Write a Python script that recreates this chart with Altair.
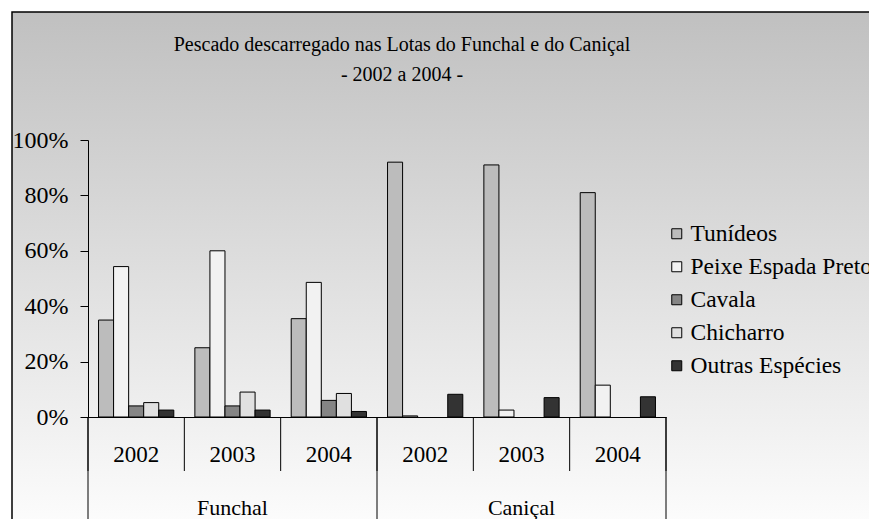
import altair as alt
import pandas as pd

# ---- data ----
locations = ["Funchal", "Funchal", "Funchal", "Caniçal", "Caniçal", "Caniçal"]
years = ["2002", "2003", "2004", "2002", "2003", "2004"]
species = ["Tunídeos", "Peixe Espada Preto", "Cavala", "Chicharro", "Outras Espécies"]
tunideos = [35.0, 25.0, 35.5, 92.0, 91.0, 81.0]
peixe_espada = [54.3, 60.0, 48.6, 0.4, 2.5, 11.5]
cavala = [4.0, 4.0, 6.0, 0.0, 0.0, 0.0]
chicharro = [5.2, 9.0, 8.5, 0.0, 0.0, 0.0]
outras = [2.5, 2.5, 2.0, 8.2, 7.0, 7.3]
y_ticks = [0, 20, 40, 60, 80, 100]
title_lines = ["Pescado descarregado nas Lotas do Funchal e do Caniçal", "- 2002 a 2004 -"]

species_colors = ["#bcbcbc", "#f2f2f2", "#858585", "#e0e0e0", "#333333"]

FONT = "Liberation Serif"
W, H = 578, 277
PAD_L, PAD_T = 80, 132
TOTAL_W, TOTAL_H = 861, 511

cats = [f"{l} {y}" for l, y in zip(locations, years)]
series = [tunideos, peixe_espada, cavala, chicharro, outras]
rows = []
for sp, vals in zip(species, series):
    for c, v in zip(cats, vals):
        rows.append({"cat": c, "species": sp, "v": v})
df = pd.DataFrame(rows)

xscale = alt.Scale(domain=cats, paddingInner=0, paddingOuter=0)

# background with gradient + border
bg = alt.Chart(pd.DataFrame({"a": [0]})).mark_rect(
    fill=alt.LinearGradient(
        gradient="linear",
        stops=[alt.GradientStop(color="#c0c0c0", offset=0),
               alt.GradientStop(color="#fcfcfc", offset=1)],
        x1=0, x2=0, y1=0, y2=1),
    stroke="black", strokeWidth=1.5,
).encode(
    x=alt.value(-PAD_L + 4), x2=alt.value(TOTAL_W),
    y=alt.value(-PAD_T + 4), y2=alt.value(TOTAL_H - PAD_T + 4),
)

bars = alt.Chart(df).transform_filter("datum.v > 0").mark_bar(
    stroke="black", strokeWidth=1
).encode(
    x=alt.X("cat:N", scale=xscale,
            axis=alt.Axis(labels=False, ticks=False, title=None, zindex=1,
                          domainColor="black", domainWidth=1)),
    xOffset=alt.XOffset("species:N", sort=species,
                        scale=alt.Scale(domain=species, paddingInner=0, paddingOuter=0.7)),
    y=alt.Y("v:Q", scale=alt.Scale(domain=[0, 100], nice=False),
            axis=alt.Axis(values=y_ticks, labelExpr="datum.value + '%'", title=None,
                          grid=False, domainColor="black", tickColor="black", zindex=1,
                          tickSize=8, labelPadding=12, labelFont=FONT,
                          labelFontSize=24, labelColor="black")),
    color=alt.Color("species:N", sort=species,
                    scale=alt.Scale(domain=species, range=species_colors),
                    legend=alt.Legend(title=None, orient="none", legendX=577, legendY=82,
                                      padding=0, symbolType="square", symbolSize=100,
                                      symbolStrokeColor="black", symbolStrokeWidth=1,
                                      labelFont=FONT, labelFontSize=23.5, labelColor="black",
                                      rowPadding=8, labelOffset=2, labelLimit=400)),
)

# dividers under the axis
inner_df = pd.DataFrame({"cat": cats})
inner_left = alt.Chart(inner_df).mark_rule(color="black", strokeWidth=1).encode(
    x=alt.X("cat:N", scale=xscale, bandPosition=0),
    y=alt.value(H), y2=alt.value(H + 54))
inner_right = alt.Chart(pd.DataFrame({"cat": [cats[-1]]})).mark_rule(
    color="black", strokeWidth=1).encode(
    x=alt.X("cat:N", scale=xscale, bandPosition=1),
    y=alt.value(H), y2=alt.value(H + 54))
outer_left = alt.Chart(pd.DataFrame({"cat": [cats[0], cats[3]]})).mark_rule(
    color="black", strokeWidth=1).encode(
    x=alt.X("cat:N", scale=xscale, bandPosition=0),
    y=alt.value(H), y2=alt.value(H + 140))
outer_right = alt.Chart(pd.DataFrame({"cat": [cats[-1]]})).mark_rule(
    color="black", strokeWidth=1).encode(
    x=alt.X("cat:N", scale=xscale, bandPosition=1),
    y=alt.value(H), y2=alt.value(H + 140))

year_text = alt.Chart(pd.DataFrame({"cat": cats, "year": years})).mark_text(
    font=FONT, fontSize=23, color="black", baseline="middle").encode(
    x=alt.X("cat:N", scale=xscale), y=alt.value(H + 38), text="year:N")

loc_df = pd.DataFrame({"cat": [cats[1], cats[4]], "loc": [locations[1], locations[4]]})
loc_text = alt.Chart(loc_df).mark_text(
    font=FONT, fontSize=22, color="black", baseline="middle").encode(
    x=alt.X("cat:N", scale=xscale), y=alt.value(H + 91), text="loc:N")

t1 = alt.Chart(pd.DataFrame({"t": [title_lines[0]]})).mark_text(
    font=FONT, fontSize=20, color="black", baseline="middle").encode(
    x=alt.value(314), y=alt.value(-95), text="t:N")
t2 = alt.Chart(pd.DataFrame({"t": [title_lines[1]]})).mark_text(
    font=FONT, fontSize=20, color="black", baseline="middle").encode(
    x=alt.value(314), y=alt.value(-65), text="t:N")

chart = alt.layer(
    bg, bars, inner_left, inner_right, outer_left, outer_right, year_text, loc_text, t1, t2
).properties(
    width=W, height=H,
    autosize=alt.AutoSizeParams(type="none"),
    padding={"left": PAD_L, "top": PAD_T,
             "right": TOTAL_W - PAD_L - W, "bottom": TOTAL_H - PAD_T - H},
    background="white",
).configure_view(stroke=None)

chart.save("out.html", embed_options={"renderer": "svg", "actions": False})
